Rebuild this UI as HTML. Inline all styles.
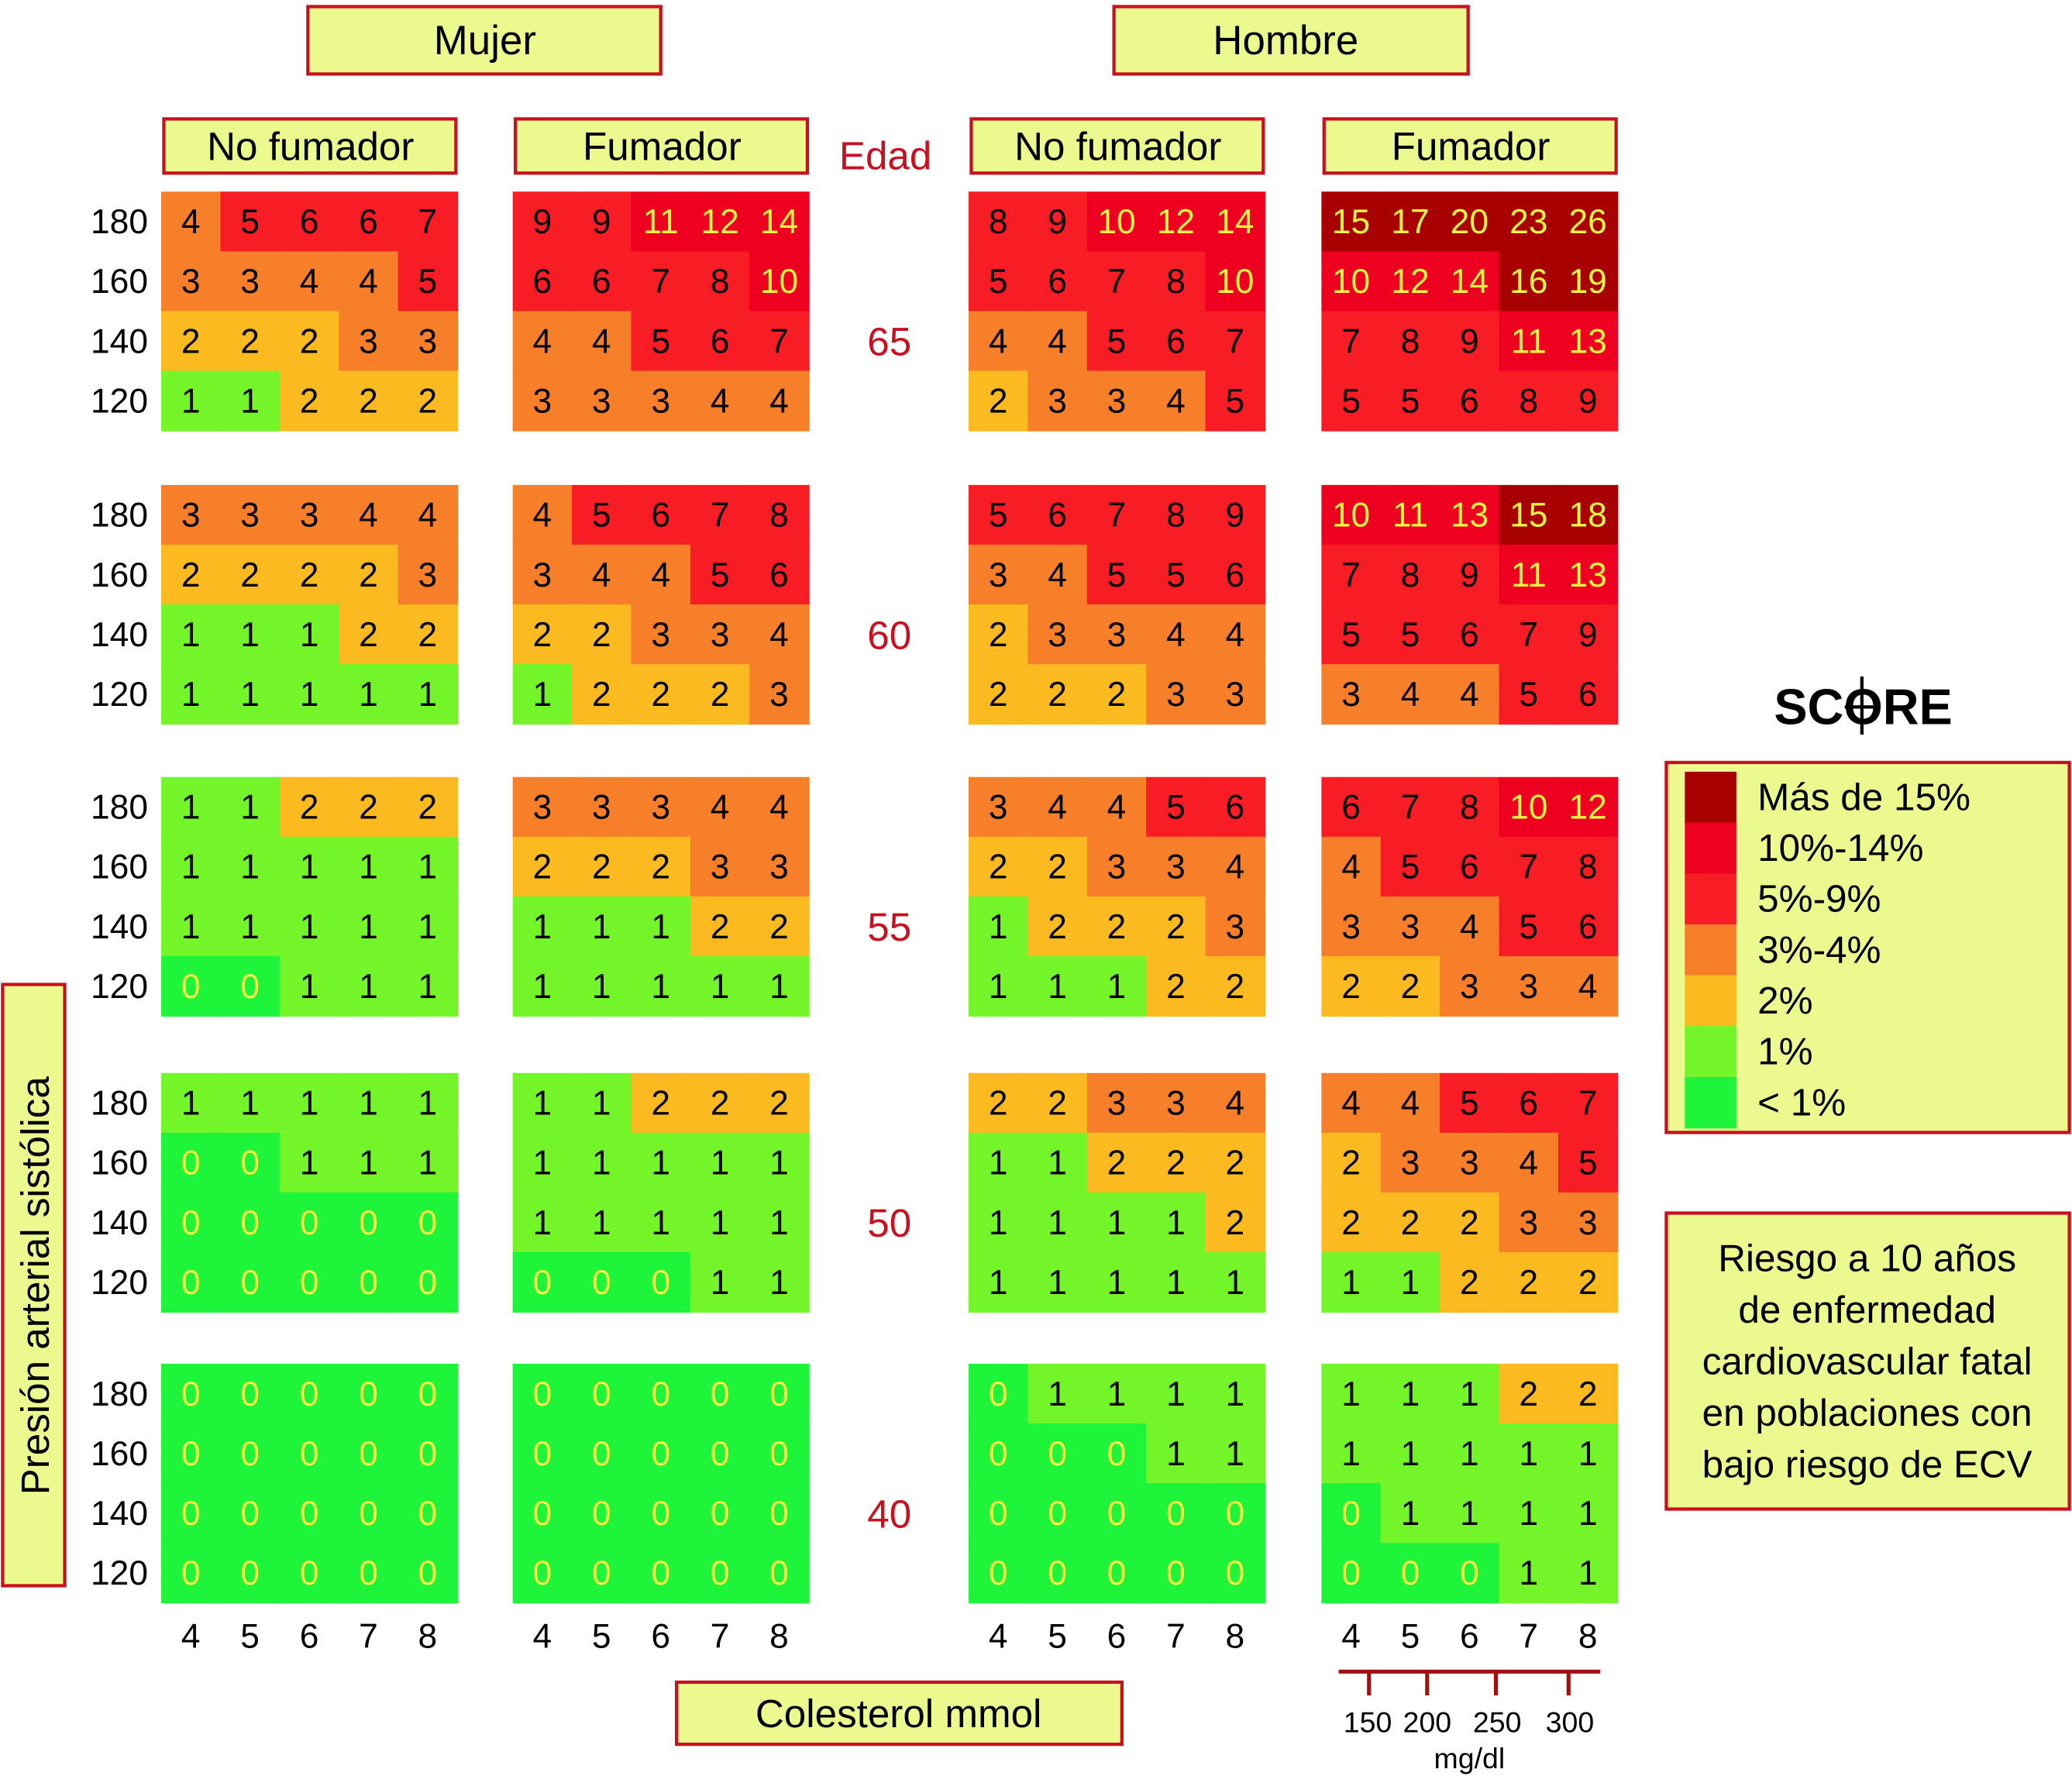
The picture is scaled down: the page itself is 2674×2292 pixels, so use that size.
<!DOCTYPE html>
<html><head><meta charset="utf-8"><style>html,body{margin:0;padding:0;background:#fff}svg{display:block}text{font-family:"Liberation Sans",sans-serif}</style></head>
<body>
<svg id="chart" width="2674" height="2292" viewBox="0 0 1568 1344" xmlns="http://www.w3.org/2000/svg">
<g id="static">
<rect x="233" y="5" width="267" height="51" fill="#ecf98f" stroke="#c8101e" stroke-width="2.5"/>
<text x="367" y="41" font-size="31" text-anchor="middle">Mujer</text>
<rect x="843" y="5" width="268" height="51" fill="#ecf98f" stroke="#c8101e" stroke-width="2.5"/>
<text x="973" y="41" font-size="31" text-anchor="middle">Hombre</text>
<text x="670" y="128" font-size="30" text-anchor="middle" fill="#c8101e">Edad</text>
<rect x="2" y="745" width="47" height="455" fill="#ecf98f" stroke="#c8101e" stroke-width="2.5"/>
<text transform="translate(37,973) rotate(-90)" font-size="30" text-anchor="middle">Presión arterial sistólica</text>
<rect x="512" y="1273" width="337" height="47" fill="#ecf98f" stroke="#c8101e" stroke-width="2.5"/>
<text x="680" y="1307" font-size="30" text-anchor="middle">Colesterol mmol</text>
<g stroke="#a01010" stroke-width="3">
<line x1="1013" y1="1265" x2="1211" y2="1265"/>
<line x1="1036" y1="1265" x2="1036" y2="1283"/><line x1="1080" y1="1265" x2="1080" y2="1283"/>
<line x1="1132" y1="1265" x2="1132" y2="1283"/><line x1="1187" y1="1265" x2="1187" y2="1283"/>
</g>
<g font-size="22" text-anchor="middle">
<text x="1035" y="1311">150</text>
<text x="1080" y="1311">200</text>
<text x="1133" y="1311">250</text>
<text x="1188" y="1311">300</text>
<text x="1112" y="1338">mg/dl</text>
</g>
<text x="1410" y="548" font-size="38" font-weight="bold" text-anchor="middle">SCORE</text>
<g stroke="#000" stroke-width="2.5" fill="none"><line x1="1409" y1="512" x2="1409" y2="556"/><line x1="1396" y1="535" x2="1422" y2="535"/></g>
<rect x="1261" y="577" width="305" height="280" fill="#ecf98f" stroke="#c8101e" stroke-width="2.5"/>
<rect x="1261" y="918" width="305" height="224" fill="#ecf98f" stroke="#c8101e" stroke-width="2.5"/>
<g font-size="29" text-anchor="middle">
<text x="1413" y="962">Riesgo a 10 años</text><text x="1413" y="1001">de enfermedad</text>
<text x="1413" y="1040">cardiovascular fatal</text><text x="1413" y="1079">en poblaciones con</text>
<text x="1413" y="1118">bajo riesgo de ECV</text>
</g>
</g>
<g id="dyn"></g>
</svg>
<script>
const ages = ["65","60","55","50","40"];
const bpTicks = ["180","160","140","120"];
const cholTicks = ["4","5","6","7","8"];
const groups = ["No fumador","Fumador","No fumador","Fumador"];
const womanNonSmoker = [
 [[4,5,6,6,7],[3,3,4,4,5],[2,2,2,3,3],[1,1,2,2,2]],
 [[3,3,3,4,4],[2,2,2,2,3],[1,1,1,2,2],[1,1,1,1,1]],
 [[1,1,2,2,2],[1,1,1,1,1],[1,1,1,1,1],[0,0,1,1,1]],
 [[1,1,1,1,1],[0,0,1,1,1],[0,0,0,0,0],[0,0,0,0,0]],
 [[0,0,0,0,0],[0,0,0,0,0],[0,0,0,0,0],[0,0,0,0,0]]];
const womanSmoker = [
 [[9,9,11,12,14],[6,6,7,8,10],[4,4,5,6,7],[3,3,3,4,4]],
 [[4,5,6,7,8],[3,4,4,5,6],[2,2,3,3,4],[1,2,2,2,3]],
 [[3,3,3,4,4],[2,2,2,3,3],[1,1,1,2,2],[1,1,1,1,1]],
 [[1,1,2,2,2],[1,1,1,1,1],[1,1,1,1,1],[0,0,0,1,1]],
 [[0,0,0,0,0],[0,0,0,0,0],[0,0,0,0,0],[0,0,0,0,0]]];
const manNonSmoker = [
 [[8,9,10,12,14],[5,6,7,8,10],[4,4,5,6,7],[2,3,3,4,5]],
 [[5,6,7,8,9],[3,4,5,5,6],[2,3,3,4,4],[2,2,2,3,3]],
 [[3,4,4,5,6],[2,2,3,3,4],[1,2,2,2,3],[1,1,1,2,2]],
 [[2,2,3,3,4],[1,1,2,2,2],[1,1,1,1,2],[1,1,1,1,1]],
 [[0,1,1,1,1],[0,0,0,1,1],[0,0,0,0,0],[0,0,0,0,0]]];
const manSmoker = [
 [[15,17,20,23,26],[10,12,14,16,19],[7,8,9,11,13],[5,5,6,8,9]],
 [[10,11,13,15,18],[7,8,9,11,13],[5,5,6,7,9],[3,4,4,5,6]],
 [[6,7,8,10,12],[4,5,6,7,8],[3,3,4,5,6],[2,2,3,3,4]],
 [[4,4,5,6,7],[2,3,3,4,5],[2,2,2,3,3],[1,1,2,2,2]],
 [[1,1,1,2,2],[1,1,1,1,1],[0,1,1,1,1],[0,0,0,1,1]]];
const legendLabels = ["Más de 15%","10%-14%","5%-9%","3%-4%","2%","1%","< 1%"];
const legendColors = ["#a80000","#ee0020","#f81c24","#f77f2a","#fbbb20","#74f52a","#1ef43a"];

const panels=[womanNonSmoker,womanSmoker,manNonSmoker,manSmoker];
const panelX=[122,388,733,1000], ageY=[145,367,588,812,1032];
const cw=44.8, ch=45.2;
function color(v){return v>=15?legendColors[0]:v>=10?legendColors[1]:v>=5?legendColors[2]:v>=3?legendColors[3]:v==2?legendColors[4]:v==1?legendColors[5]:legendColors[6];}
const NS="http://www.w3.org/2000/svg", g=document.getElementById('dyn');
function el(t,a,txt){const e=document.createElementNS(NS,t);for(const k in a)e.setAttribute(k,a[k]);if(txt!=null)e.textContent=txt;g.appendChild(e);return e;}
groups.forEach((name,p)=>{
 const b=el('rect',{x:panelX[p]+2,y:90,width:221,height:41,fill:'#ecf98f',stroke:'#c8101e','stroke-width':2.5});
 
 
 const t=el('text',{x:panelX[p]+113,y:121,'font-size':30,'text-anchor':'middle'},name);
 
 
 cholTicks.forEach((c,j)=>{
  const e=el('text',{x:panelX[p]+cw*(j+0.5),y:1247,'font-size':26,'text-anchor':'middle'},c);
  
  
 });
 ages.forEach((a,i)=>{
  panels[p][i].forEach((row,r)=>row.forEach((v,j)=>{
   const x=panelX[p]+cw*j,y=ageY[i]+ch*r;
   const c=el('rect',{x:x,y:y,width:cw+0.6,height:ch+0.6,fill:color(v)});
   
   
   const t=el('text',{x:x+cw/2,y:y+ch/2+9,'font-size':26,'text-anchor':'middle',fill:(v==0||v>=10)?'#f5f542':'#000'},String(v));
   
   
  }));
 });
});
ages.forEach((a,i)=>{
 const t=el('text',{x:673,y:ageY[i]+ch*2.5+11,'font-size':30,'text-anchor':'middle',fill:'#c8101e'},a);
 
 
 bpTicks.forEach((b,r)=>{
  const e=el('text',{x:112,y:ageY[i]+ch*(r+0.5)+9,'font-size':26,'text-anchor':'end'},b);
  
  
 });
});
legendLabels.forEach((l,k)=>{
 const s=el('rect',{x:1275,y:584+k*38.5,width:39,height:39,fill:legendColors[k]});
 
 
 const t=el('text',{x:1330,y:613+k*38.5,'font-size':29},l);
 
 
});
</script>
</body></html>
